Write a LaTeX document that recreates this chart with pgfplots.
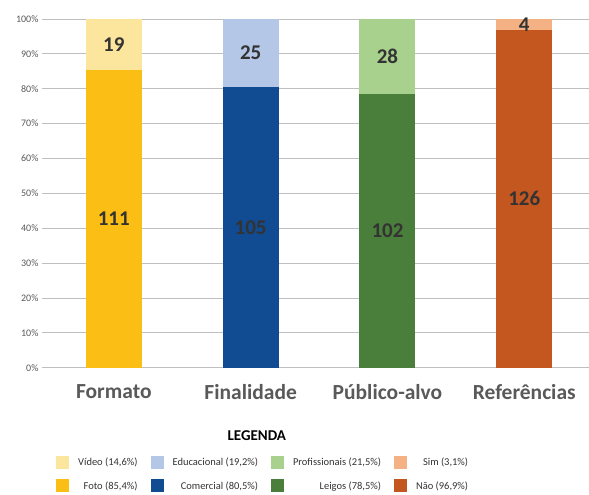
\documentclass[border=0pt]{standalone}
\usepackage{pgfplots}
\pgfplotsset{compat=1.18}
\usepackage{fontspec}
\setmainfont{Carlito}
\definecolor{foto}{HTML}{FBBE14}
\definecolor{video}{HTML}{FCE59D}
\definecolor{comercial}{HTML}{114B92}
\definecolor{educ}{HTML}{B4C7E7}
\definecolor{leigos}{HTML}{4A7E3B}
\definecolor{prof}{HTML}{A9D18E}
\definecolor{nao}{HTML}{C4561F}
\definecolor{sim}{HTML}{F4B183}
\definecolor{tgray}{HTML}{595959}
\definecolor{lgray}{HTML}{333333}
\definecolor{grid}{HTML}{D9D9D9}
\begin{document}
\begin{tikzpicture}
\begin{axis}[
  scale only axis,
  width=547pt, height=349pt,
  xmin=-0.525, xmax=3.47,
  ymin=0, ymax=100,
  clip=false,
  axis line style={draw=none},
  xtick={0,1,2,3},
  xticklabels={Formato,Finalidade,Público-alvo,Referências},
  xticklabel style={font=\fontsize{21.5}{24}\selectfont\bfseries, text=tgray, yshift=-13pt},
  ytick={0,10,...,100},
  yticklabel={\pgfmathprintnumber{\tick}\%},
  yticklabel style={font=\fontsize{10}{11}\selectfont, text=tgray},
  /pgf/number format/assume math mode=true,
  major tick length=0pt,
  ymajorgrids,
  grid style={grid, line width=0.8pt},
  legend columns=4,
  legend image code/.code={\fill[#1,draw=none] (0pt,-6.5pt) rectangle (13pt,6.5pt);},
  legend style={at={(axis description cs:0.0256,-0.253)}, anchor=north west,
    draw=none, fill=none, inner sep=0pt,
    font=\fontsize{10.5}{12}\selectfont, text=lgray,
    cells={anchor=east},
    /tikz/every odd column/.append style={column sep=7pt},
    /tikz/every even column/.append style={column sep=11pt},
    row sep=10pt},
]
\addplot[ybar, bar width=56pt, bar shift=0pt, fill=video, draw=none] coordinates {(0,100)};
\addlegendentry{Vídeo (14,6\%)}
\addplot[ybar, bar width=56pt, bar shift=0pt, fill=educ, draw=none] coordinates {(1,100)};
\addlegendentry{Educacional (19,2\%)}
\addplot[ybar, bar width=56pt, bar shift=0pt, fill=prof, draw=none] coordinates {(2,100)};
\addlegendentry{Profissionais (21,5\%)}
\addplot[ybar, bar width=56pt, bar shift=0pt, fill=sim, draw=none] coordinates {(3,100)};
\addlegendentry{Sim (3,1\%)}
\addplot[ybar, bar width=56pt, bar shift=0pt, fill=foto, draw=none] coordinates {(0,85.4)};
\addlegendentry{Foto (85,4\%)}
\addplot[ybar, bar width=56pt, bar shift=0pt, fill=comercial, draw=none] coordinates {(1,80.5)};
\addlegendentry{Comercial (80,5\%)}
\addplot[ybar, bar width=56pt, bar shift=0pt, fill=leigos, draw=none] coordinates {(2,78.5)};
\addlegendentry{Leigos (78,5\%)}
\addplot[ybar, bar width=56pt, bar shift=0pt, fill=nao, draw=none] coordinates {(3,96.9)};
\addlegendentry{Não (96,9\%)}
\addplot[draw=none, mark=none, forget plot, nodes near coords, point meta=explicit symbolic,
  nodes near coords align={center},
  every node near coord/.append style={font=\fontsize{21}{24}\selectfont\bfseries, text=lgray, anchor=center}]
  coordinates {(0,42.7)[111] (0,92.7)[19] (1,40.25)[105] (1,90.25)[25] (2,39.25)[102] (2,89.25)[28] (3,48.45)[126] (3,98.45)[4]};
\node[font=\fontsize{15}{16}\selectfont\bfseries, text=black] at (axis description cs:0.393,-0.195) {LEGENDA};
\path (axis description cs:-0.0768,1.0544) rectangle (axis description cs:1,-0.3639);
\end{axis}
\end{tikzpicture}
\end{document}
